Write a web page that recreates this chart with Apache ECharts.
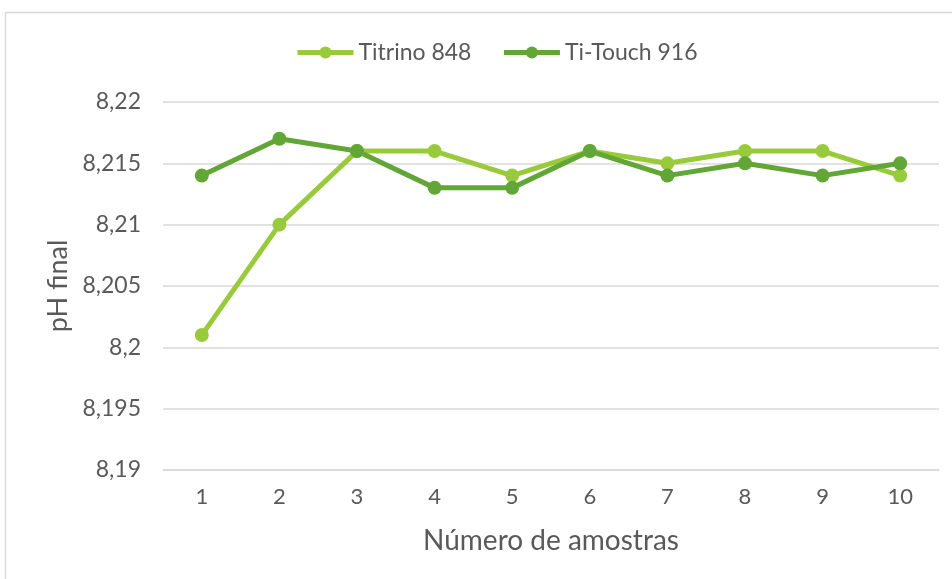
<!DOCTYPE html>
<html>
<head>
<meta charset="utf-8">
<script src="https://cdn.jsdelivr.net/npm/echarts@6/dist/echarts.min.js"></script>
<style>
  html, body { margin: 0; padding: 0; background: #fff; }
  #chart { width: 952px; height: 579px; }
</style>
</head>
<body>
<div id="chart"></div>
<script>
  var categories = ['1', '2', '3', '4', '5', '6', '7', '8', '9', '10']
  var titrino = [8.201, 8.210, 8.216, 8.216, 8.214, 8.216, 8.215, 8.216, 8.216, 8.214]
  var tiTouch = [8.214, 8.217, 8.216, 8.213, 8.213, 8.216, 8.214, 8.215, 8.214, 8.215]
  var yMin = 8.19
  var yMax = 8.22
  var yStep = 0.005

  var textColor = '#595959'
  var fontFam = 'Lato, "Noto Sans", sans-serif'

  var chart = echarts.init(document.getElementById('chart'))
  chart.setOption({
    animation: false,
    textStyle: { fontFamily: fontFam, color: textColor },
    graphic: [{
      type: 'rect',
      shape: { x: 5.5, y: 12.5, width: 1000, height: 700 },
      style: { fill: 'none', stroke: '#d9d9d9', lineWidth: 1.5 },
      silent: true
    }],
    legend: {
      top: 36,
      left: 290,
      itemWidth: 56,
      itemHeight: 15,
      itemGap: 30,
      lineStyle: { width: 5 },
      textStyle: { fontSize: 23, color: textColor, fontFamily: fontFam },
      data: ['Titrino 848', 'Ti-Touch 916']
    },
    grid: { left: 163, right: 13, top: 102, bottom: 109 },
    xAxis: {
      type: 'category',
      data: categories,
      name: 'Número de amostras',
      nameLocation: 'middle',
      nameGap: 57,
      nameTextStyle: { fontSize: 28, color: textColor, fontFamily: fontFam },
      axisTick: { show: false },
      axisLine: { lineStyle: { color: '#d9d9d9', width: 1.5 } },
      axisLabel: { fontSize: 22, color: textColor, margin: 16, fontFamily: fontFam }
    },
    yAxis: {
      type: 'value',
      min: yMin,
      max: yMax,
      interval: yStep,
      name: 'pH final',
      nameLocation: 'middle',
      nameGap: 91,
      nameTextStyle: { fontSize: 27, color: textColor, fontFamily: fontFam },
      axisLabel: {
        fontSize: 23,
        color: textColor,
        margin: 22,
        fontFamily: fontFam,
        formatter: function (v) {
          return String(+v.toFixed(3)).replace('.', ',')
        }
      },
      splitLine: { lineStyle: { color: '#d9d9d9', width: 1.5 } }
    },
    series: [
      {
        name: 'Titrino 848',
        type: 'line',
        data: titrino,
        color: '#99ca3c',
        symbol: 'circle',
        symbolSize: 14,
        lineStyle: { width: 5 }
      },
      {
        name: 'Ti-Touch 916',
        type: 'line',
        data: tiTouch,
        color: '#61a637',
        symbol: 'circle',
        symbolSize: 14,
        lineStyle: { width: 5 }
      }
    ]
  })
</script>
</body>
</html>
